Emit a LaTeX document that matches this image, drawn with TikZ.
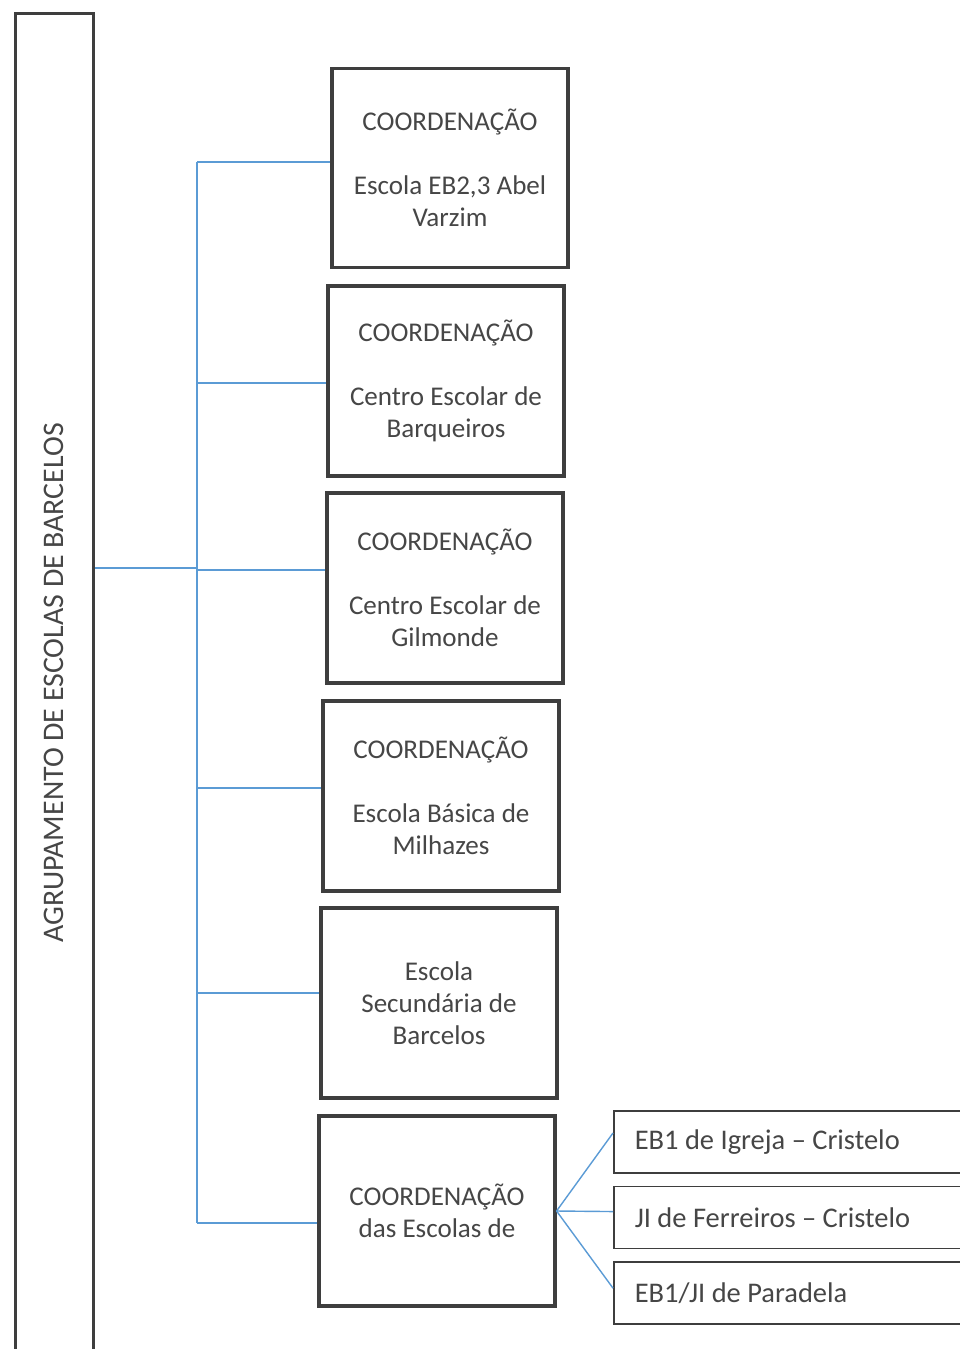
\documentclass[tikz,border=0pt]{standalone}
\usepackage{fontspec}
\setmainfont{Carlito}
\usetikzlibrary{positioning}
\definecolor{boxgray}{RGB}{62,62,62}
\definecolor{textgray}{RGB}{70,70,70}
\definecolor{linkblue}{RGB}{91,155,213}

\begin{document}
\begin{tikzpicture}[x=0.02cm,y=-0.02cm,
box/.style={draw=boxgray,line width=1.8pt,align=center,text=textgray,
minimum width=4.72cm,minimum height=3.8cm,font=\fontsize{15.4}{18.2}\selectfont},
sub/.style={draw=boxgray,line width=0.9pt,anchor=west,align=flush left,text=textgray,
text width=6.9cm,inner xsep=0.42cm,minimum height=1.24cm,font=\fontsize{16.2}{19}\selectfont},
link/.style={draw=linkblue,line width=0.8pt}]
\useasboundingbox (0,0) rectangle (960,1349);
\clip (0,0) rectangle (960,1349);
% agrupamento
\node[draw=boxgray,line width=1.8pt,minimum width=1.56cm,minimum height=28cm,
anchor=north west,inner sep=0pt] (agr) at (14,12) {};
\node[rotate=90,text=textgray,font=\fontsize{17}{20}\selectfont] (agrlbl) at (54,683)
{AGRUPAMENTO DE ESCOLAS DE BARCELOS};
% coordenacoes
\node[box,minimum height=3.98cm] (c1) at (450,168) {COORDENAÇÃO\\[18pt]Escola EB2,3 Abel\\Varzim};
\node[box] (c2) at (446,381) {COORDENAÇÃO\\[18pt]Centro Escolar de\\Barqueiros};
\node[box] (c3) at (445,588) {COORDENAÇÃO\\[18pt]Centro Escolar de\\Gilmonde};
\node[box] (c4) at (441,796) {COORDENAÇÃO\\[18pt]Escola Básica de\\Milhazes};
\node[box] (c5) at (439,1003) {Escola\\Secundária de\\Barcelos};
\node[box] (c6) at (437,1211) {COORDENAÇÃO\\das Escolas de};
% escolas
\node[sub] (s1) at (613,1142) {EB1 de Igreja – Cristelo};
\node[sub,below=0.24cm of s1] (s2) {JI de Ferreiros – Cristelo};
\node[sub,below=0.24cm of s2] (s3) {EB1/JI de Paradela};
% ligacoes
\foreach \i/\y in {1/162,2/383,3/570,4/788,5/993,6/1223}{
\coordinate (b\i) at (197,\y);
\draw[link] (b\i) -- (b\i -| c\i.west);}
\draw[link] (b1) -- (b6);
\coordinate (jn) at (197,568);
\draw[link] (agr.east |- jn) -- (jn);
\foreach \s/\d in {s1/0.18cm,s2/0.12cm,s3/0.1cm}
\draw[link] (c6.east) -- ([yshift=\d]\s.west);
\end{tikzpicture}
\end{document}
